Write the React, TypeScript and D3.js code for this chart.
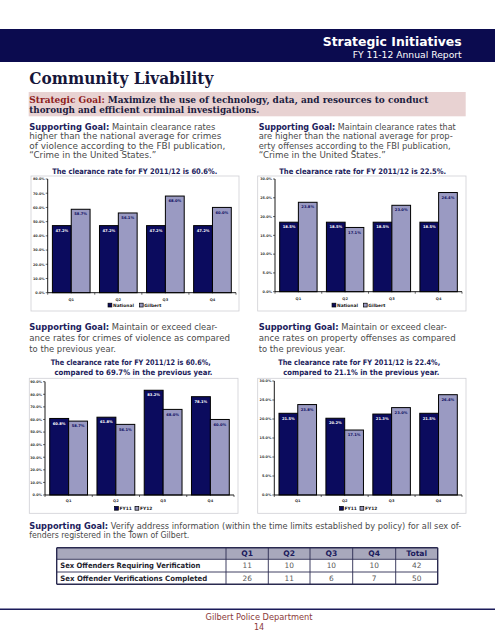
import React from "react";
import * as d3 from "d3";

const quarters = ["Q1", "Q2", "Q3", "Q4"];
const violentNational = [47.2, 47.2, 47.2, 47.2];
const violentGilbert = [58.7, 56.1, 68.0, 60.0];
const propertyNational = [18.5, 18.5, 18.5, 18.5];
const propertyGilbert = [23.8, 17.1, 23.0, 26.4];
const violentFY11 = [60.8, 61.8, 83.2, 78.1];
const violentFY12 = [58.7, 56.1, 68.0, 60.0];
const propertyFY11 = [21.5, 20.2, 21.3, 21.5];
const propertyFY12 = [23.8, 17.1, 23.0, 26.4];

const tableCols = ["Q1", "Q2", "Q3", "Q4", "Total"];
const tableRowLabels = ["Sex Offenders Requiring Verification", "Sex Offender Verifications Completed"];
const requiringVerification = [11, 10, 10, 10, 42];
const verificationsCompleted = [26, 11, 6, 7, 50];

const NAVY = "#0b0b5e";
const LAV = "#9a9ac2";
const SANS = "'DejaVu Sans', sans-serif";
const SERIF = "'DejaVu Serif', serif";
const GRAY_TXT = "#4a4a4a";
const GOAL_NAVY = "#1c1c5c";
const BODY = 8.0;

type TL = { x: number; y: number; w?: number; size: number; weight?: string | number; fill?: string; family?: string; anchor?: string; children: any };
function T({ x, y, w, size, weight, fill, family, anchor, children }: TL) {
  return (
    <text x={x} y={y} fontSize={size} fontWeight={weight || "normal"} fill={fill || GRAY_TXT}
      fontFamily={family || SANS} textAnchor={anchor || "start"}
      {...(w ? { textLength: w, lengthAdjust: "spacingAndGlyphs" } : {})}>
      {children}
    </text>
  );
}

function GoalLine({ x, y, w, rest }: { x: number; y: number; w: number; rest: string }) {
  return (
    <T x={x} y={y} w={w} size={BODY}>
      <tspan fontWeight="bold" fill={GOAL_NAVY}>Supporting Goal:</tspan>
      <tspan>{"  " + rest}</tspan>
    </T>
  );
}

type ChartProps = {
  box: number[]; ax: number; ar: number; yt: number; yb: number; yMax: number; step: number;
  a: number[]; b: number[]; names: string[]; xLabY: number; legY: number; legCx: number;
};

function BarChart({ box, ax, ar, yt, yb, yMax, step, a, b, names, xLabY, legY, legCx }: ChartProps) {
  const y = d3.scaleLinear().domain([0, yMax]).range([yb, yt]);
  const x = d3.scaleBand<string>().domain(quarters).range([ax, ar]).paddingInner(0.2).paddingOuter(0.1);
  const xs = d3.scaleBand<string>().domain(["a", "b"]).range([0, x.bandwidth()]);
  const ticks = d3.range(0, yMax + step / 2, step);
  const fmt = (v: number) => d3.format(".1f")(v) + "%";
  const series = [
    { key: "a", vals: a, fill: NAVY, txt: "#ffffff" },
    { key: "b", vals: b, fill: LAV, txt: NAVY },
  ];
  const legFs = 4.4;
  const items = names.map((n) => ({ n, w: 5.5 + n.length * legFs * 0.62 }));
  const totalW = items.reduce((s, it) => s + it.w, 0) + 4;
  let lx = legCx - totalW / 2;
  return (
    <g>
      <rect x={box[0]} y={box[1]} width={box[2] - box[0]} height={box[3] - box[1]} fill="#fff" stroke="#cfcfd4" strokeWidth={0.8} />
      {ticks.map((t) => (
        <g key={t}>
          <line x1={ax - 2} x2={ax} y1={y(t)} y2={y(t)} stroke="#000" strokeWidth={0.6} />
          <text x={ax - 3} y={y(t) + 1.3} fontSize={3.4} fontFamily={SANS} fontWeight="bold" fill="#333" textAnchor="end">{fmt(t)}</text>
        </g>
      ))}
      {quarters.map((q, i) =>
        series.map((s) => {
          const v = s.vals[i];
          const bx = (x(q) as number) + (xs(s.key) as number);
          const bw = xs.bandwidth();
          return (
            <g key={q + s.key}>
              <rect x={bx} y={y(v)} width={bw} height={yb - y(v)} fill={s.fill} stroke="#000" strokeWidth={1} />
              <text x={bx + bw / 2} y={y(v) + 6.2} fontSize={3.7} fontFamily={SANS} fontWeight="bold" fill={s.txt} textAnchor="middle">{fmt(v)}</text>
            </g>
          );
        })
      )}
      <line x1={ax} x2={ax} y1={yt} y2={yb} stroke="#000" strokeWidth={0.9} />
      <line x1={ax} x2={ar} y1={yb} y2={yb} stroke="#000" strokeWidth={0.9} />
      {d3.range(0, quarters.length + 1).map((i) => (
        <line key={i} x1={ax + i * x.step()} x2={ax + i * x.step()} y1={yb} y2={yb + 2} stroke="#000" strokeWidth={0.6} />
      ))}
      {quarters.map((q) => (
        <text key={q} x={(x(q) as number) + x.bandwidth() / 2} y={xLabY} fontSize={3.6} fontFamily={SANS} fontWeight="bold" fill="#333" textAnchor="middle">{q}</text>
      ))}
      {items.map((it, i) => {
        const cx = lx;
        lx += it.w + 4;
        return (
          <g key={it.n}>
            <rect x={cx} y={legY - 3.6} width={3.8} height={3.8} fill={i === 0 ? NAVY : LAV} stroke="#000" strokeWidth={0.7} />
            <text x={cx + 5} y={legY} fontSize={legFs} fontFamily={SANS} fontWeight="bold" fill="#222">{it.n}</text>
          </g>
        );
      })}
    </g>
  );
}

export default function App() {
  const colX = [56.7, 226, 268.3, 310, 352.7, 395.7, 437.7];
  const rowY = [547.7, 559.3, 572, 584.3];
  return (
    <div style={{ position: "absolute", left: 0, top: 0 }}>
      <svg width={495} height={640} viewBox="0 0 495 640" style={{ display: "block", background: "#fff" }}>
        <rect x={0} y={0} width={495} height={640} fill="#fff" />
        {/* header band */}
        <rect x={0} y={29} width={495} height={33} fill="#0b0b4f" />
        <T x={461.7} y={45.5} w={139} size={13} weight="bold" fill="#ffffff" anchor="end">Strategic Initiatives</T>
        <T x={461.7} y={57.6} w={109} size={8.6} fill="#ffffff" anchor="end">FY 11-12 Annual Report</T>

        <T x={29.3} y={83.5} w={184} size={17.5} weight="bold" fill="#16163a" family={SERIF}>Community Livability</T>

        <rect x={28.7} y={92} width={437} height={24.3} fill="#e8d2d2" />
        <T x={29.3} y={102.6} w={399} size={9} weight="bold" fill="#1b1b3e" family={SERIF}>
          <tspan fill="#8e1c1c">Strategic Goal:</tspan>
          <tspan>{"  Maximize the use of technology, data, and resources to conduct"}</tspan>
        </T>
        <T x={29.3} y={113} w={230} size={9} weight="bold" fill="#1b1b3e" family={SERIF}>thorough and efficient criminal investigations.</T>

        {/* top-left text */}
        <GoalLine x={29.3} y={129.8} w={186} rest="Maintain clearance rates" />
        <T x={29.3} y={139.2} w={192} size={BODY}>higher than the national average for crimes</T>
        <T x={29.3} y={148.5} w={196} size={BODY}>of violence according to the FBI publication,</T>
        <T x={29.3} y={157.8} w={127} size={BODY}>“Crime in the United States.”</T>
        <T x={134.7} y={173.6} w={165} size={7.6} weight="bold" fill={GOAL_NAVY} anchor="middle">The clearance rate for FY 2011/12 is 60.6%.</T>

        {/* top-right text */}
        <GoalLine x={258.7} y={129.8} w={197} rest="Maintain clearance rates that" />
        <T x={258.7} y={139.2} w={194} size={BODY}>are higher than the national average for prop-</T>
        <T x={258.7} y={148.5} w={192} size={BODY}>erty offenses according to the FBI publication,</T>
        <T x={258.7} y={157.8} w={127} size={BODY}>“Crime in the United States.”</T>
        <T x={362.7} y={173.6} w={167} size={7.6} weight="bold" fill={GOAL_NAVY} anchor="middle">The clearance rate for FY 2011/12 is 22.5%.</T>

        <BarChart box={[31, 176, 239, 311]} ax={47.7} ar={236} yt={179} yb={292.7} yMax={80} step={10}
          a={violentNational} b={violentGilbert} names={["National", "Gilbert"]} xLabY={301} legY={306.8} legCx={136} />
        <BarChart box={[257.7, 176, 466, 311]} ax={275} ar={462} yt={179} yb={291.7} yMax={30} step={5}
          a={propertyNational} b={propertyGilbert} names={["National", "Gilbert"]} xLabY={299.5} legY={306.8} legCx={360} />

        {/* bottom-left text */}
        <GoalLine x={29.3} y={330.3} w={188} rest="Maintain or exceed clear-" />
        <T x={29.3} y={341} w={200.7} size={BODY}>ance rates for crimes of violence as compared</T>
        <T x={29.3} y={351.5} w={86.7} size={BODY}>to the previous year.</T>
        <T x={130.7} y={365.2} w={160} size={7.6} weight="bold" fill={GOAL_NAVY} anchor="middle">The clearance rate for FY 2011/12 is 60.6%,</T>
        <T x={133.5} y={374.5} w={158} size={7.6} weight="bold" fill={GOAL_NAVY} anchor="middle">compared to 69.7% in the previous year.</T>

        {/* bottom-right text */}
        <GoalLine x={258.7} y={330.3} w={188} rest="Maintain or exceed clear-" />
        <T x={258.7} y={341} w={197} size={BODY}>ance rates on property offenses as compared</T>
        <T x={258.7} y={351.5} w={86.7} size={BODY}>to the previous year.</T>
        <T x={359.2} y={365.2} w={162} size={7.6} weight="bold" fill={GOAL_NAVY} anchor="middle">The clearance rate for FY 2011/12 is 22.4%,</T>
        <T x={361.3} y={374.5} w={156} size={7.6} weight="bold" fill={GOAL_NAVY} anchor="middle">compared to 21.1% in the previous year.</T>

        <BarChart box={[29.3, 378.3, 238, 513.3]} ax={45} ar={234} yt={381.7} yb={495} yMax={90} step={10}
          a={violentFY11} b={violentFY12} names={["FY11", "FY12"]} xLabY={501.8} legY={510} legCx={133} />
        <BarChart box={[257.7, 378.3, 466, 513.3]} ax={274.3} ar={462} yt={381} yb={495} yMax={30} step={5}
          a={propertyFY11} b={propertyFY12} names={["FY11", "FY12"]} xLabY={501.8} legY={510} legCx={358} />

        {/* bottom text */}
        <GoalLine x={29.3} y={529} w={432} rest="Verify address information (within the time limits established by policy) for all sex of-" />
        <T x={29.3} y={538.2} w={160} size={BODY}>fenders registered in the Town of Gilbert.</T>

        {/* table */}
        <rect x={colX[0]} y={rowY[0]} width={colX[6] - colX[0]} height={rowY[1] - rowY[0]} fill="#a8a8bc" />
        <rect x={colX[0]} y={rowY[1]} width={colX[6] - colX[0]} height={rowY[3] - rowY[1]} fill="#ffffff" />
        {rowY.map((ry, i) => (
          <line key={"h" + i} x1={colX[0]} x2={colX[6]} y1={ry} y2={ry} stroke="#2a2a50" strokeWidth={i === 0 || i === 3 ? 1.4 : 0.9} />
        ))}
        {colX.map((cx, i) => (
          <line key={"v" + i} x1={cx} x2={cx} y1={rowY[0]} y2={rowY[3]} stroke="#2a2a50" strokeWidth={i === 0 || i === 6 ? 1.4 : 0.9} />
        ))}
        {tableCols.map((c, i) => (
          <T key={c} x={(colX[i + 1] + colX[i + 2]) / 2} y={rowY[0] + 8.6} size={7.6} weight="bold" fill={GOAL_NAVY} anchor="middle">{c}</T>
        ))}
        {[requiringVerification, verificationsCompleted].map((row, r) => (
          <g key={r}>
            <T x={60.3} y={rowY[r + 1] + 9} w={r === 0 ? 140 : 147} size={7.4} weight="bold" fill="#1e1e2e">{tableRowLabels[r]}</T>
            {row.map((v, i) => (
              <T key={i} x={(colX[i + 1] + colX[i + 2]) / 2} y={rowY[r + 1] + 9} size={7.4} fill="#5a5a5a" anchor="middle">{v}</T>
            ))}
          </g>
        ))}

        {/* footer */}
        <line x1={0} x2={495} y1={609.3} y2={609.3} stroke="#1b1b5a" strokeWidth={1.4} />
        <T x={259} y={619.6} w={107} size={8} fill="#8a3a3a" anchor="middle">Gilbert Police Department</T>
        <T x={259} y={630} size={8} fill="#8a3a3a" anchor="middle">14</T>
      </svg>
    </div>
  );
}
